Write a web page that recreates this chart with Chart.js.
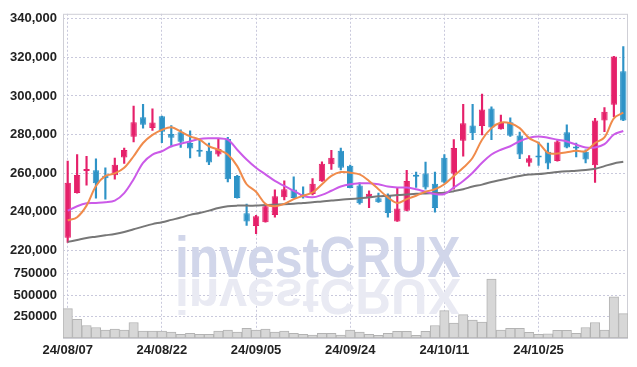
<!DOCTYPE html>
<html>
<head>
<meta charset="utf-8">
<script src="https://cdn.jsdelivr.net/npm/chart.js@4"></script>
<style>
  html, body { margin: 0; padding: 0; background: #fff; }
</style>
</head>
<body>
<canvas id="chart" width="637" height="367"></canvas>
<script>
const dates = [
  '24/08/07', '24/08/08', '24/08/09', '24/08/12', '24/08/13', '24/08/14', '24/08/16', '24/08/19', '24/08/20', '24/08/21',
  '24/08/22', '24/08/23', '24/08/26', '24/08/27', '24/08/28', '24/08/29', '24/08/30', '24/09/02', '24/09/03', '24/09/04',
  '24/09/05', '24/09/06', '24/09/09', '24/09/10', '24/09/11', '24/09/12', '24/09/13', '24/09/19', '24/09/20', '24/09/23',
  '24/09/24', '24/09/25', '24/09/26', '24/09/27', '24/09/30', '24/10/02', '24/10/04', '24/10/07', '24/10/08', '24/10/10',
  '24/10/11', '24/10/14', '24/10/15', '24/10/16', '24/10/17', '24/10/18', '24/10/21', '24/10/22', '24/10/23', '24/10/24',
  '24/10/25', '24/10/28', '24/10/29', '24/10/30', '24/10/31', '24/11/01', '24/11/04', '24/11/05', '24/11/06', '24/11/07'
]

const opens = [
  226500, 249600, 261000, 261400, 258600, 258800, 268000, 278800, 288900, 283400,
  289400, 280200, 281200, 275600, 271500, 271500, 269600, 277600, 258500, 239200,
  232500, 234500, 238300, 247500, 251500, 248900, 249100, 255700, 264500, 271600,
  263800, 253500, 247200, 246900, 248200, 234900, 240400, 259000, 259800, 254500,
  267900, 259800, 276800, 284600, 284400, 293500, 282700, 286300, 279500, 265300,
  268600, 271000, 266200, 281200, 273300, 271000, 264100, 287200, 295400, 312800
]
const highs = [
  266200, 269600, 268700, 267400, 262700, 267700, 273000, 294700, 295600, 293300,
  289600, 284600, 282400, 281900, 277600, 275600, 278000, 278500, 258800, 243900,
  238000, 243400, 251300, 255900, 258000, 252800, 257100, 265800, 271800, 273000,
  264100, 254900, 250800, 249600, 249200, 252500, 261400, 260500, 265700, 260500,
  269600, 277300, 295700, 295700, 300900, 294400, 290100, 288700, 281200, 269100,
  276000, 275600, 276900, 285000, 275600, 272100, 288400, 294000, 320500, 325600
]
const lows = [
  224000, 249500, 253700, 247000, 246500, 256800, 265000, 276200, 283300, 282100,
  275800, 273500, 273300, 267900, 268600, 264400, 268700, 255400, 247000, 232800,
  228600, 234500, 237100, 246000, 247000, 247000, 248700, 255700, 261900, 261600,
  252300, 243900, 242100, 244800, 237100, 234900, 240400, 252500, 251600, 239700,
  254700, 251600, 268700, 277300, 279800, 277300, 282700, 279000, 267400, 263600,
  264000, 262200, 266200, 273000, 268400, 265300, 255100, 281500, 289200, 287200
]
const closes = [
  255000, 259000, 261900, 254700, 257300, 264300, 272000, 286300, 285000, 286200,
  281400, 278300, 276200, 272700, 271100, 265500, 272500, 256800, 247000, 234900,
  237600, 242800, 247900, 251600, 247000, 247400, 254500, 264800, 267900, 262700,
  252300, 244300, 249200, 244800, 239300, 241600, 255900, 258100, 252500, 241900,
  255100, 273000, 285800, 280700, 293000, 283600, 286000, 279300, 269600, 267700,
  268000, 265000, 276400, 273200, 272700, 267000, 287200, 291800, 320500, 287200
]

const ma5 = [
  235400, 237100, 243100, 253300, 258500, 259800, 262700, 268700, 275600, 279800,
  282400, 283800, 281500, 279000, 277300, 273900, 272100, 269600, 263600, 254200,
  250300, 244000, 242800, 244000, 246500, 248200, 249900, 254200, 258500, 260500,
  260200, 259300, 255900, 251600, 247400, 244500, 246500, 248200, 250300, 251600,
  254200, 258500, 262700, 267900, 277300, 283300, 286200, 285800, 283300, 278100,
  275600, 270400, 270100, 270800, 271500, 271300, 275600, 278500, 288400, 291300
]
const ma20 = [
  240500, 242800, 244300, 244500, 244800, 245700, 249600, 256800, 265300, 269600,
  271300, 273900, 275200, 276400, 277600, 278000, 278000, 277300, 272100, 267000,
  262700, 259300, 255900, 253300, 250800, 248200, 247400, 248700, 250800, 253000,
  254200, 254700, 254700, 254200, 253000, 252500, 252500, 251600, 250300, 249100,
  249100, 252500, 255900, 260200, 265300, 269600, 272100, 273900, 276500, 278300,
  279000, 278300, 277300, 276400, 274700, 273300, 273300, 275000, 280000, 281800
]
const ma60 = [
  224300, 225300, 226300, 227000, 227700, 228400, 229400, 230800, 232200, 233500,
  234500, 235700, 236900, 238300, 239300, 240500, 241900, 242800, 243100, 243100,
  243100, 243400, 243600, 243800, 244100, 244500, 244800, 245300, 245700, 246200,
  246500, 246900, 247400, 247900, 248200, 248600, 248900, 249200, 249400, 249600,
  249800, 250600, 251600, 253000, 254000, 255400, 256400, 257500, 258500, 259200,
  259500, 260000, 260500, 260900, 261200, 261600, 262200, 263600, 265000, 265800
]

const volumes = [
  343000, 219000, 146000, 123000, 92000, 104000, 92000, 181000, 81000, 81000,
  81000, 69000, 42000, 54000, 42000, 42000, 81000, 92000, 69000, 112000,
  92000, 104000, 69000, 81000, 54000, 42000, 35000, 54000, 54000, 35000,
  92000, 69000, 42000, 31000, 54000, 77000, 77000, 31000, 77000, 146000,
  319000, 173000, 273000, 208000, 185000, 689000, 92000, 112000, 112000, 66000,
  42000, 50000, 89000, 89000, 54000, 123000, 181000, 92000, 481000, 285000
]

const priceTicks = [220000, 240000, 260000, 280000, 300000, 320000, 340000]
const volumeTicks = [250000, 500000, 750000]

const upColor = '#e5206a'
const downColor = '#2e93c7'
const gridColor = '#c9c9dc'
const labelFont = { family: 'Liberation Sans', size: 13, weight: 'bold' }

const candleColors = closes.map((c, i) => (c >= opens[i] ? upColor : downColor))

// watermark with its reflection, drawn under the marks
const watermark = {
  id: 'watermark',
  beforeDatasetsDraw(chart) {
    const ctx = chart.ctx
    ctx.save()
    ctx.font = 'bold 58px "Liberation Sans"'
    ctx.textBaseline = 'alphabetic'
    ctx.translate(175, 277)
    ctx.scale(0.86, 1)
    ctx.fillStyle = '#d1d6ea'
    ctx.fillText('investCRUX', 0, 0)
    ctx.scale(1, -0.85)
    ctx.fillStyle = '#e9eaf3'
    ctx.fillText('investCRUX', 0, -2)
    ctx.restore()
  }
}

// thin frame round the plot
const frame = {
  id: 'frame',
  beforeDatasetsDraw(chart) {
    const a = chart.chartArea
    const ctx = chart.ctx
    ctx.save()
    ctx.strokeStyle = '#cfcfd6'
    ctx.lineWidth = 1
    ctx.strokeRect(a.left + 0.5, a.top + 0.5, a.right - a.left - 1, a.bottom - a.top)
    ctx.restore()
  }
}

new Chart(document.getElementById('chart'), {
  type: 'bar',
  data: {
    labels: dates,
    datasets: [
      { type: 'line', label: 'MA5', data: ma5, borderColor: '#f08b4b', borderWidth: 2, pointRadius: 0, tension: 0.35, yAxisID: 'y', order: 1 },
      { type: 'line', label: 'MA20', data: ma20, borderColor: '#cb5ae8', borderWidth: 2, pointRadius: 0, tension: 0.35, yAxisID: 'y', order: 2 },
      { type: 'line', label: 'MA60', data: ma60, borderColor: '#777777', borderWidth: 2, pointRadius: 0, tension: 0.35, yAxisID: 'y', order: 3 },
      {
        label: 'body', data: opens.map((o, i) => [o, closes[i]]),
        backgroundColor: candleColors, borderColor: candleColors, borderWidth: 1, borderSkipped: false,
        barPercentage: 0.68, categoryPercentage: 1, grouped: false, minBarLength: 2, yAxisID: 'y', order: 4
      },
      {
        label: 'wick', data: lows.map((l, i) => [l, highs[i]]),
        backgroundColor: candleColors, barThickness: 1.5, grouped: false, yAxisID: 'y', order: 5
      },
      {
        label: 'volume', data: volumes,
        backgroundColor: '#d7d7d7', borderColor: '#b3b3b3', borderWidth: 1, borderSkipped: false,
        barPercentage: 1, categoryPercentage: 1, grouped: false, yAxisID: 'yv', order: 6
      }
    ]
  },
  options: {
    responsive: false,
    animation: false,
    layout: { padding: { top: 10, right: 9, left: 0, bottom: 0 } },
    plugins: {
      legend: { display: false },
      tooltip: { enabled: false }
    },
    scales: {
      x: {
        offset: true,
        grid: {
          offset: false,
          drawTicks: false,
          color: ctx => (ctx.index % 10 === 0 ? gridColor : 'rgba(0,0,0,0)')
        },
        border: { display: false, dash: [2, 2] },
        ticks: {
          autoSkip: false, maxRotation: 0, padding: 5, color: '#222', font: labelFont,
          callback: (v, i) => (i % 10 === 0 ? dates[i] : '')
        },
        afterFit: s => { s.height = 29 }
      },
      // volume pane listed first so that it lands under the price pane
      yv: {
        position: 'left', stack: 'panes', stackWeight: 76,
        min: 0, max: 877000,
        afterBuildTicks: s => { s.ticks = volumeTicks.map(v => ({ value: v })) },
        grid: { color: gridColor, drawTicks: false },
        border: { display: false, dash: [2, 2] },
        ticks: { padding: 6, color: '#222', font: labelFont, callback: v => String(v) },
        afterFit: s => { s.width = 63 }
      },
      y: {
        position: 'left', stack: 'panes', stackWeight: 252,
        min: 213400, max: 342600,
        afterBuildTicks: s => { s.ticks = priceTicks.map(v => ({ value: v })) },
        grid: { color: gridColor, drawTicks: false },
        border: { display: false, dash: [2, 2] },
        ticks: { padding: 6, color: '#222', font: labelFont, callback: v => v.toLocaleString('en-US') },
        afterFit: s => { s.width = 63 }
      }
    }
  },
  plugins: [watermark, frame]
})
</script>
</body>
</html>
